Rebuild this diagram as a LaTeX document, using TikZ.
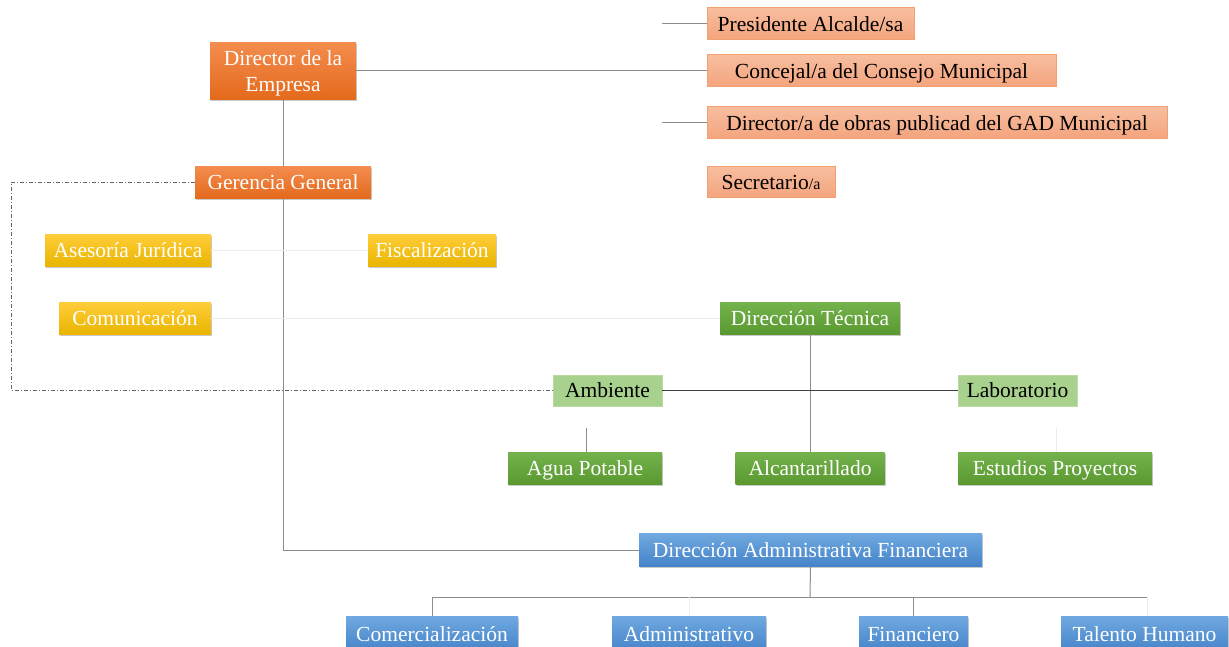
\documentclass[tikz,border=0pt]{standalone}
\usepackage{fontspec}
\setmainfont{Liberation Serif}
\usetikzlibrary{shadows}
\definecolor{lnc}{HTML}{8C8C8C}
\definecolor{faint}{HTML}{ECECEC}
\definecolor{orT}{HTML}{F38D4F}
\definecolor{orB}{HTML}{E46A1C}
\definecolor{saT}{HTML}{F7BEA0}
\definecolor{saB}{HTML}{F4A57E}
\definecolor{saD}{HTML}{F2A070}
\definecolor{yeT}{HTML}{FFCD3A}
\definecolor{yeB}{HTML}{E9B500}
\definecolor{grT}{HTML}{74B24D}
\definecolor{grB}{HTML}{5A9930}
\definecolor{lgr}{HTML}{A9D18E}
\definecolor{lgrD}{HTML}{B9DAA2}
\definecolor{blT}{HTML}{70A9E0}
\definecolor{blB}{HTML}{4583C9}
\tikzset{
  bx/.style={rectangle, inner sep=0pt, align=center, text height=19pt, text depth=5pt,
    font=\fontsize{21.5}{26}\selectfont},
  shad/.style={drop shadow={opacity=0.35, shadow xshift=1pt, shadow yshift=-1.5pt, fill=black!60}},
  orangebox/.style={bx, shad, top color=orT, bottom color=orB, text=white},
  salmonbox/.style={bx, text height=21pt, top color=saT, bottom color=saB, draw=saD, line width=0.6pt, text=black},
  yellowbox/.style={bx, shad, top color=yeT, bottom color=yeB, text=white},
  greenbox/.style={bx, shad, top color=grT, bottom color=grB, text=white},
  lightbox/.style={bx, fill=lgr, draw=lgrD, line width=0.6pt, text=black},
  bluebox/.style={bx, shad, top color=blT, bottom color=blB, text=white},
  conn/.style={draw=lnc, line width=1pt},
  darkconn/.style={draw=black!75, line width=1pt},
  faintconn/.style={draw=faint, line width=1pt},
  dashconn/.style={draw=black!60, line width=0.8pt, dash pattern=on 4pt off 2pt on 1pt off 2pt},
}
\begin{document}
\begin{tikzpicture}[x=1pt,y=-1pt]
\useasboundingbox (0,0) rectangle (1229,646);
\clip (0,0) rectangle (1229,646);
% nodes
\node[salmonbox, minimum width=207, minimum height=32] (pres) at (810.5,23) {Presidente Alcalde/sa};
\node[salmonbox, minimum width=349, minimum height=32] (conc) at (881.5,70) {Concejal/a del Consejo Municipal};
\node[salmonbox, minimum width=460, minimum height=32] (dirob) at (937,122) {Director/a de obras publicad del GAD Municipal};
\node[salmonbox, minimum width=128, minimum height=31] (secr) at (771,181.5) {Secretario{\fontsize{16}{20}\selectfont/a}};
\node[orangebox, text height=46pt, text depth=5pt, minimum width=146, minimum height=57] (dire) at (283,70.5) {Director de la\\Empresa};
\node[orangebox, minimum width=176, minimum height=32] (ger) at (283,182) {Gerencia General};
\node[yellowbox, minimum width=166, minimum height=32] (ases) at (128,250) {Asesoría Jurídica};
\node[yellowbox, minimum width=128, minimum height=32] (fisc) at (432,250) {Fiscalización};
\node[yellowbox, minimum width=152, minimum height=32] (comu) at (135,318) {Comunicación};
\node[greenbox, minimum width=180, minimum height=32] (dtec) at (810,318) {Dirección Técnica};
\node[lightbox, minimum width=109, minimum height=31] (amb) at (607.5,390.5) {Ambiente};
\node[lightbox, minimum width=119, minimum height=31] (lab) at (1017.5,390.5) {Laboratorio};
\node[greenbox, minimum width=154, minimum height=32] (agua) at (585,468) {Agua Potable};
\node[greenbox, minimum width=149, minimum height=32] (alc) at (810,468) {Alcantarillado};
\node[greenbox, minimum width=194, minimum height=32] (est) at (1055,468) {Estudios Proyectos};
\node[bluebox, minimum width=343, minimum height=33] (daf) at (810.5,550) {Dirección Administrativa Financiera};
\node[bluebox, minimum width=172, minimum height=36] (com) at (432,634) {Comercialización};
\node[bluebox, minimum width=154, minimum height=36] (adm) at (689,634) {Administrativo};
\node[bluebox, minimum width=109, minimum height=36] (fin) at (913.5,634) {Financiero};
\node[bluebox, minimum width=167, minimum height=36] (tal) at (1144.5,634) {Talento Humano};
% free ends
\coordinate (p0) at (662,23);
\coordinate (d0) at (662,122);
\coordinate (dl) at (11,182);
\coordinate (as) at (586,428);
\coordinate (es) at (1056,428);
\coordinate (hb) at (810,597);
\coordinate (hl) at (432,597);
\coordinate (hr) at (1147,597);
\coordinate (hr2) at (1147,616);
\coordinate (ha) at (689,597);
\coordinate (hf) at (913.5,597);
% connectors
\path[conn] (p0) -- (pres.west);
\path[conn] (d0) -- (dirob.west);
\path[conn] (dire.east) -- (dire.east -| conc.west);
\path[conn] (dire.south) -- (ger.north);
\path[conn] (ger.south) |- (daf.west);
\path[dashconn] (ger.west) -- (dl) |- (amb.west);
\path[faintconn] (ases.east) -- (fisc.west);
\path[faintconn] (comu.east) -- (dtec.west);
\path[conn] (dtec.south) -- (alc.north);
\path[darkconn] (amb.east) -- (lab.west);
\path[conn] (as) -- (as |- agua.north);
\path[faintconn] (es) -- (es |- est.north);
\path[conn] (daf.south) -- (hb);
\path[conn] (hl) -- (hr);
\path[conn] (hl) -- (com.north);
\path[faintconn] (ha) -- (adm.north);
\path[conn] (hf) -- (fin.north);
\path[faintconn] (hr) -- (hr2);
\end{tikzpicture}
\end{document}
